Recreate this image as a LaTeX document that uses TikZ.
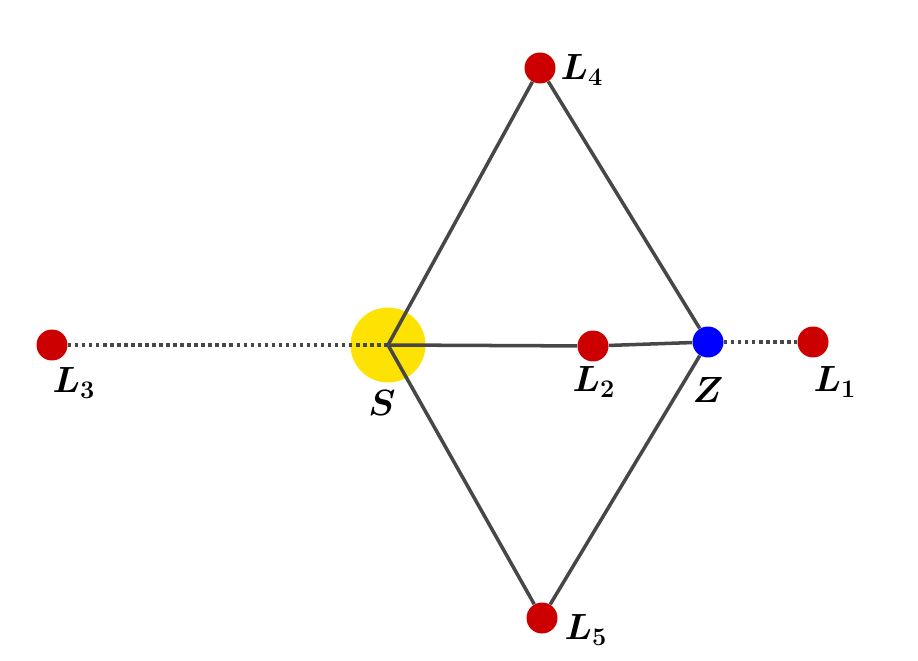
\documentclass[tikz,border=0pt]{standalone}
\usepackage{amsmath}
\begin{document}
\begin{tikzpicture}[x=0.02cm,y=-0.02cm,
  ln/.style={draw=black!72,line width=2pt},
  dt/.style={draw=black!72,line width=2pt,dotted},
  pl/.style={circle,fill=red!80!black,minimum size=0.62cm,inner sep=0pt},
  lab/.style={font=\huge}]
\useasboundingbox (0,0) rectangle (918,661);
\node[circle,fill=yellow!85!orange,minimum size=1.5cm,inner sep=0pt] (S) at (388,345) {};
\node[pl] (L3) at (52,345) {};
\node[pl] (L2) at (593,346) {};
\node[pl] (L1) at (813,342) {};
\node[pl] (L4) at (540,68) {};
\node[pl] (L5) at (542,618) {};
\node[circle,fill=blue,minimum size=0.62cm,inner sep=0pt] (Z) at (708,342) {};
\coordinate (s) at (388,345);
\draw[dt] (L3) -- (s);
\draw[dt] (Z) -- (L1);
\draw[ln] (s) -- (L2) -- (Z);
\draw[ln] (s) -- (L4) -- (Z) -- (L5) -- (s);
\node[lab] (tL4) at (582,70) {$\boldsymbol{L_4}$};
\node[lab] (tL5) at (586,630) {$\boldsymbol{L_5}$};
\node[lab] (tL3) at (74,383) {$\boldsymbol{L_3}$};
\node[lab] (tL2) at (594,382) {$\boldsymbol{L_2}$};
\node[lab] (tL1) at (835,382) {$\boldsymbol{L_1}$};
\node[lab] (tS) at (382,403) {$\boldsymbol{S}$};
\node[lab] (tZ) at (708,390) {$\boldsymbol{Z}$};
\end{tikzpicture}
\end{document}
